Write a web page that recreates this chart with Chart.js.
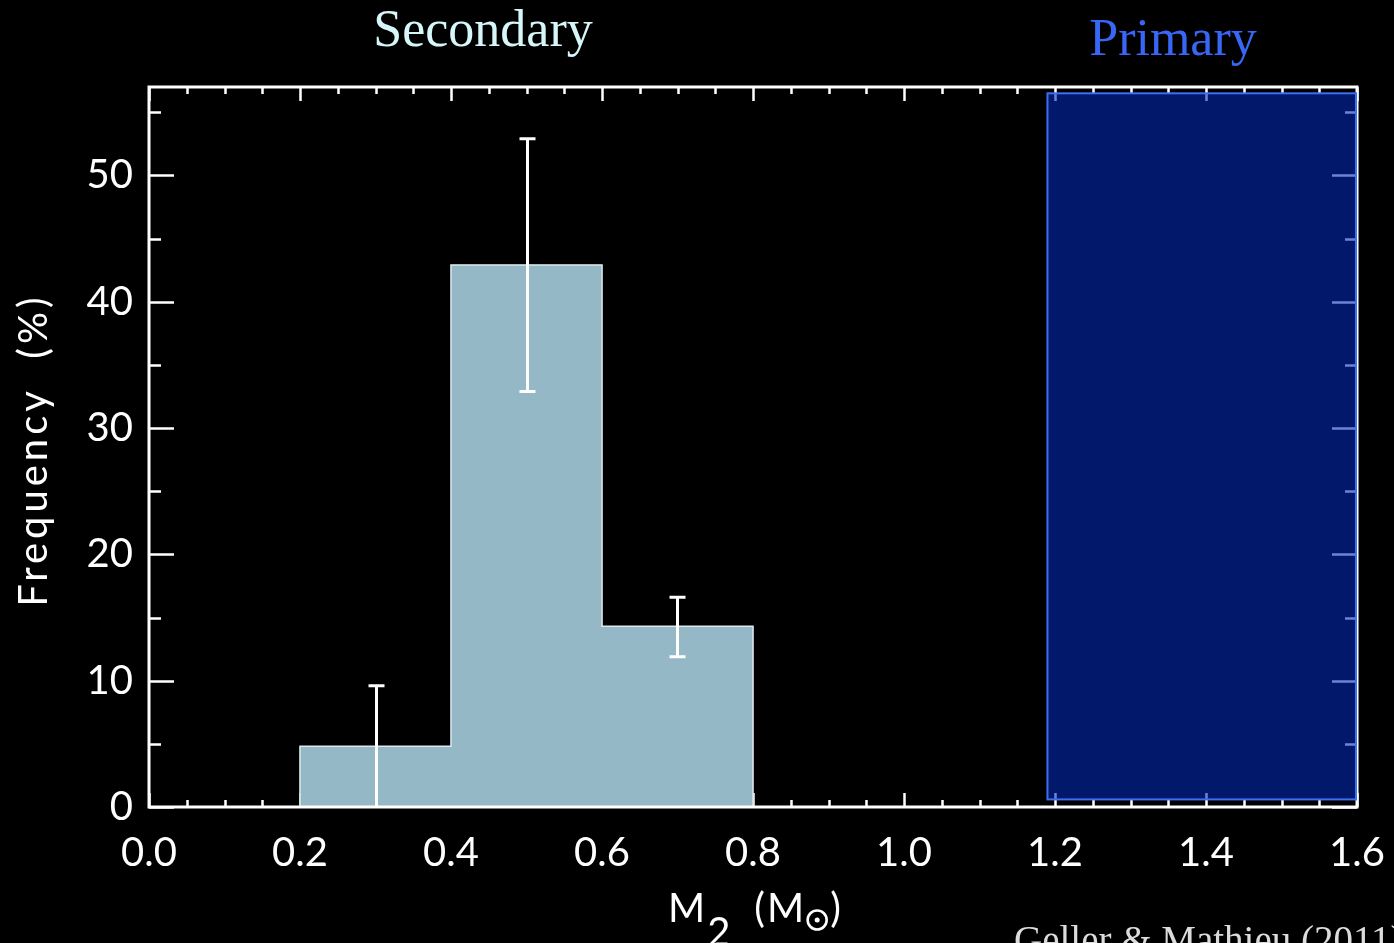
<!DOCTYPE html>
<html>
<head>
<meta charset="utf-8">
<script src="https://cdn.jsdelivr.net/npm/chart.js@4/dist/chart.umd.min.js"></script>
<style>
  html, body { margin: 0; padding: 0; background: #000; }
  #wrap { width: 1394px; height: 943px; position: relative; }
</style>
</head>
<body>
<div id="wrap"><canvas id="c"></canvas></div>
<script>
// ---- data ----
const binCenters = [0.3, 0.5, 0.7];
const frequencies = [4.8, 42.9, 14.3];
const errLow = [0, 32.9, 11.9];
const errHigh = [9.6, 52.9, 16.6];
const xTickValues = [0.0, 0.2, 0.4, 0.6, 0.8, 1.0, 1.2, 1.4, 1.6];
const yTickValues = [0, 10, 20, 30, 40, 50];
const primaryRangeX = [1.19, 1.6];
const primaryRangeY = [0.6, 56.5];
const labelSecondary = 'Secondary';
const labelPrimary = 'Primary';
const xTitleMain = 'M';
const xTitleSub = '2';
const xTitleUnit = '(M';
const yTitle = 'Frequency  (%)';
const credit = 'Geller & Mathieu (2011)';

const tickFont = '"Lato", "Open Sans", "DejaVu Sans", sans-serif';

const decorPlugin = {
  id: 'decor',
  beforeDatasetsDraw(chart) {
    const { ctx, chartArea: a, scales: { x, y } } = chart;
    ctx.save();
    ctx.strokeStyle = '#ffffff';
    ctx.lineWidth = 2.5;
    for (let i = 0; i <= 32; i++) {
      const v = i * 0.05;
      const px = Math.round(x.getPixelForValue(v)) + 0.5;
      const major = i % 4 === 0;
      const len = major ? 14 : 7;
      ctx.beginPath();
      ctx.moveTo(px, a.bottom); ctx.lineTo(px, a.bottom - len);
      ctx.moveTo(px, a.top); ctx.lineTo(px, a.top + len);
      ctx.stroke();
    }
    for (let v = 0; v <= 55; v += 5) {
      const py = Math.round(y.getPixelForValue(v)) + 0.5;
      const major = v % 10 === 0;
      const len = major ? 25 : 12;
      ctx.beginPath();
      ctx.moveTo(a.left, py); ctx.lineTo(a.left + len, py);
      ctx.moveTo(a.right, py); ctx.lineTo(a.right - len, py);
      ctx.stroke();
    }
    ctx.restore();
  },
  afterDatasetsDraw(chart) {
    const { ctx, chartArea: a, scales: { x, y } } = chart;
    ctx.save();
    // step outline of the histogram (taken from the drawn bar elements)
    const bars = chart.getDatasetMeta(0).data;
    ctx.strokeStyle = '#dce8ec';
    ctx.lineWidth = 1.5;
    ctx.beginPath();
    bars.forEach((b, i) => {
      const p = b.getProps(['x', 'y', 'base', 'width'], true);
      const l = p.x - p.width / 2, r = p.x + p.width / 2;
      if (i === 0) ctx.moveTo(l, p.base);
      ctx.lineTo(l, p.y);
      ctx.lineTo(r, p.y);
      if (i === bars.length - 1) ctx.lineTo(r, p.base);
    });
    ctx.stroke();
    // error bars
    ctx.strokeStyle = '#ffffff';
    ctx.lineWidth = 3;
    binCenters.forEach((c, i) => {
      const px = Math.round(x.getPixelForValue(c)) + 0.5;
      const y0 = y.getPixelForValue(errLow[i]);
      const y1 = y.getPixelForValue(errHigh[i]);
      ctx.beginPath();
      ctx.moveTo(px, y0); ctx.lineTo(px, y1);
      ctx.moveTo(px - 8, y1); ctx.lineTo(px + 8, y1);
      if (errLow[i] > 0) { ctx.moveTo(px - 8, y0); ctx.lineTo(px + 8, y0); }
      ctx.stroke();
    });
    const bx0 = x.getPixelForValue(primaryRangeX[0]);
    const bx1 = x.getPixelForValue(primaryRangeX[1]);
    const by0 = y.getPixelForValue(primaryRangeY[0]);
    const by1 = y.getPixelForValue(primaryRangeY[1]);
    ctx.strokeStyle = '#ffffff';
    ctx.lineWidth = 3;
    ctx.strokeRect(a.left, a.top, a.right - a.left, a.bottom - a.top);
    ctx.fillStyle = 'rgba(3, 41, 183, 0.58)';
    ctx.fillRect(bx0, by1, bx1 - bx0 - 1, by0 - by1);
    ctx.strokeStyle = '#3d6ff2';
    ctx.lineWidth = 2;
    ctx.strokeRect(bx0, by1, bx1 - bx0 - 1, by0 - by1);
    ctx.restore();
  },
  afterDraw(chart) {
    const { ctx } = chart;
    ctx.save();
    ctx.font = '52px "Liberation Serif", "DejaVu Serif", serif';
    ctx.textBaseline = 'alphabetic';
    ctx.textAlign = 'center';
    ctx.fillStyle = '#d6f6fa';
    ctx.fillText(labelSecondary, 483, 46);
    ctx.fillStyle = '#3866f5';
    ctx.fillText(labelPrimary, 1173, 55);
    // y title
    ctx.fillStyle = '#ffffff';
    ctx.font = '400 40px ' + tickFont;
    ctx.letterSpacing = '4px';
    ctx.translate(47, 450);
    ctx.rotate(-Math.PI / 2);
    ctx.textAlign = 'center';
    ctx.fillText(yTitle, 0, 0);
    ctx.setTransform(1, 0, 0, 1, 0, 0);
    // x title: M_2 (M_sun)
    ctx.letterSpacing = '2px';
    ctx.textAlign = 'left';
    ctx.font = '400 40px ' + tickFont;
    let xx = 668;
    const base = 922;
    ctx.fillText(xTitleMain, xx, base);
    xx += ctx.measureText(xTitleMain).width;
    ctx.fillText(xTitleSub, xx, base + 24);
    xx += ctx.measureText(xTitleSub).width + 22;
    ctx.fillText(xTitleUnit, xx, base);
    xx += ctx.measureText(xTitleUnit).width + 1;
    ctx.strokeStyle = '#ffffff';
    ctx.lineWidth = 2.6;
    ctx.beginPath(); ctx.arc(xx + 10, base - 2, 9.5, 0, Math.PI * 2); ctx.stroke();
    ctx.beginPath(); ctx.arc(xx + 10, base - 2, 2.5, 0, Math.PI * 2); ctx.fill();
    xx += 23;
    ctx.fillText(')', xx, base);
    // credit
    ctx.letterSpacing = '0px';
    ctx.fillStyle = '#dcdcdc';
    ctx.font = '39px "Liberation Serif", "DejaVu Serif", serif';
    ctx.fillText(credit, 1014, 953);
    ctx.restore();
  }
};

new Chart(document.getElementById('c'), {
  type: 'bar',
  data: {
    datasets: [{
      data: binCenters.map((c, i) => ({ x: c, y: frequencies[i] })),
      backgroundColor: '#95b8c6',
      borderWidth: 0,
      barPercentage: 1,
      categoryPercentage: 1
    }]
  },
  options: {
    responsive: true,
    maintainAspectRatio: false,
    animation: false,
    devicePixelRatio: 1,
    layout: { padding: { left: 0, top: 87, right: 37, bottom: 0 } },
    plugins: { legend: { display: false }, tooltip: { enabled: false }, title: { display: false } },
    scales: {
      x: {
        type: 'linear',
        min: 0, max: 1.6,
        offset: false,
        grid: { display: false, drawTicks: false },
        border: { display: false },
        afterBuildTicks: (s) => { s.ticks = xTickValues.map(v => ({ value: v })); },
        afterFit: (s) => { s.height = 943 - 807; s.paddingLeft = 0; s.paddingRight = 0; },
        ticks: {
          color: '#ffffff',
          font: { family: tickFont, size: 40, weight: '400' },
          padding: 22,
          maxRotation: 0,
          autoSkip: false,
          callback: (v) => Number(v).toFixed(1)
        }
      },
      y: {
        min: 0, max: 57,
        grid: { display: false, drawTicks: false },
        border: { display: false },
        afterBuildTicks: (s) => { s.ticks = yTickValues.map(v => ({ value: v })); },
        afterFit: (s) => { s.width = 149; s.paddingTop = 0; s.paddingBottom = 0; },
        ticks: {
          color: '#ffffff',
          font: { family: tickFont, size: 40, weight: '400' },
          padding: 16,
          autoSkip: false,
          callback: (v) => String(v)
        }
      }
    }
  },
  plugins: [decorPlugin]
});
</script>
</body>
</html>
